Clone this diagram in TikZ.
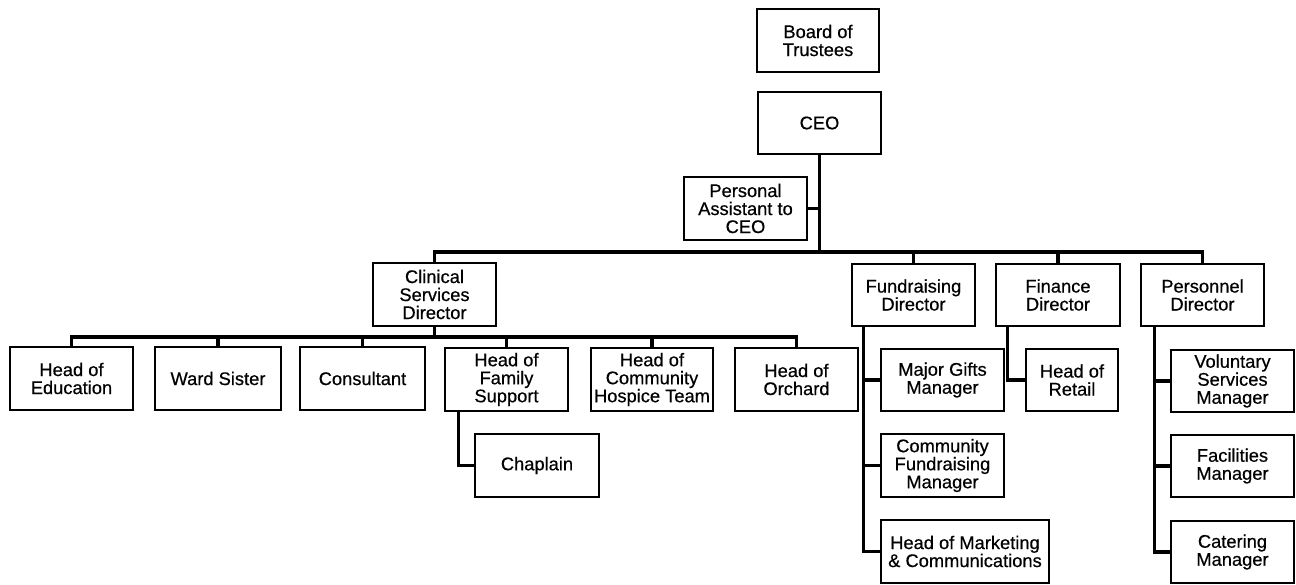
\documentclass[tikz,border=0pt]{standalone}
\usepackage{fontspec}
\setmainfont{Liberation Sans}
\newfontfamily\boxfont[FakeBold=0.5]{Liberation Sans}
\begin{document}
\begin{tikzpicture}[x=1pt,y=-1pt,
  box/.style={draw=black, line width=1.8pt, fill=white, minimum width=123pt, minimum height=63pt,
    align=center, inner sep=0pt, font=\boxfont\fontsize{18.3}{18}\selectfont},
  link/.style={draw=black, line width=3.2pt, line cap=rect}]
\useasboundingbox (0,0) rectangle (1296,585);
% level 0-1
\node[box, minimum width=122pt] (board) at (818,40.5) {Board of\\Trustees};
\node[box, minimum height=62pt] (ceo) at (819.5,123) {CEO};
\node[box] (pa) at (745.5,208.5) {Personal\\Assistant to\\CEO};
% directors
\node[box] (clin) at (434.5,294.5) {Clinical\\Services\\Director};
\node[box, minimum height=62pt] (fund) at (913.5,295) {Fundraising\\Director};
\node[box, minimum width=124pt, minimum height=62pt] (fin) at (1058,295) {Finance\\Director};
\node[box, minimum height=62pt] (pers) at (1202.5,295) {Personnel\\Director};
% clinical reports
\node[box] (edu) at (71.5,378.5) {Head of\\Education};
\node[box, minimum width=126pt] (ward) at (218,378.5) {Ward Sister};
\node[box, minimum width=125pt] (cons) at (362.5,378.5) {Consultant};
\node[box] (fam) at (506.5,379.5) {Head of\\Family\\Support};
\node[box, minimum width=122pt] (comm) at (652,379.5) {Head of\\Community\\Hospice Team};
\node[box] (orch) at (796.5,379.5) {Head of\\Orchard};
\node[box, minimum width=124pt] (chap) at (537,465.5) {Chaplain};
% fundraising reports
\node[box, minimum height=62pt] (major) at (942.5,380) {Major Gifts\\Manager};
\node[box] (cfund) at (942.5,465.5) {Community\\Fundraising\\Manager};
\node[box, minimum width=168pt] (mark) at (965,551.5) {Head of Marketing\\\& Communications};
% finance
\node[box, minimum width=92pt, minimum height=62pt] (retail) at (1072,380) {Head of\\Retail};
% personnel
\node[box, minimum height=62pt] (vol) at (1232.5,381) {Voluntary\\Services\\Manager};
\node[box, minimum height=62pt] (fac) at (1232.5,466) {Facilities\\Manager};
\node[box, minimum height=62pt] (cat) at (1232.5,552) {Catering\\Manager};
% coordinates
\coordinate (bar) at (0,252);
\coordinate (sub) at (0,337);
% CEO trunk
\draw[link] (ceo.south) -- (ceo.south |- bar);
\draw[link] (pa.east) -- (pa.east -| ceo.south);
\draw[link] (clin.north |- bar) -- (pers.north |- bar);
\foreach \n in {clin,fund,fin,pers} \draw[link] (\n.north |- bar) -- (\n.north);
% clinical
\draw[link] (clin.south) -- (clin.south |- sub);
\draw[link] (edu.north |- sub) -- (orch.north |- sub);
\foreach \n in {edu,ward,cons,fam,comm,orch} \draw[link] (\n.north |- sub) -- (\n.north);
\coordinate (famt) at ([xshift=14pt]fam.south west);
\draw[link] (famt) -- (famt |- chap.west) -- (chap.west);
% fundraising
\coordinate (fundt) at ([xshift=12pt]fund.south west);
\draw[link] (fundt) -- (fundt |- mark.west) -- (mark.west);
\draw[link] (fundt |- major.west) -- (major.west);
\draw[link] (fundt |- cfund.west) -- (cfund.west);
% finance
\coordinate (fint) at ([xshift=12pt]fin.south west);
\draw[link] (fint) -- (fint |- retail.west) -- (retail.west);
% personnel
\coordinate (perst) at ([xshift=14pt]pers.south west);
\draw[link] (perst) -- (perst |- cat.west) -- (cat.west);
\draw[link] (perst |- vol.west) -- (vol.west);
\draw[link] (perst |- fac.west) -- (fac.west);
\end{tikzpicture}
\end{document}
